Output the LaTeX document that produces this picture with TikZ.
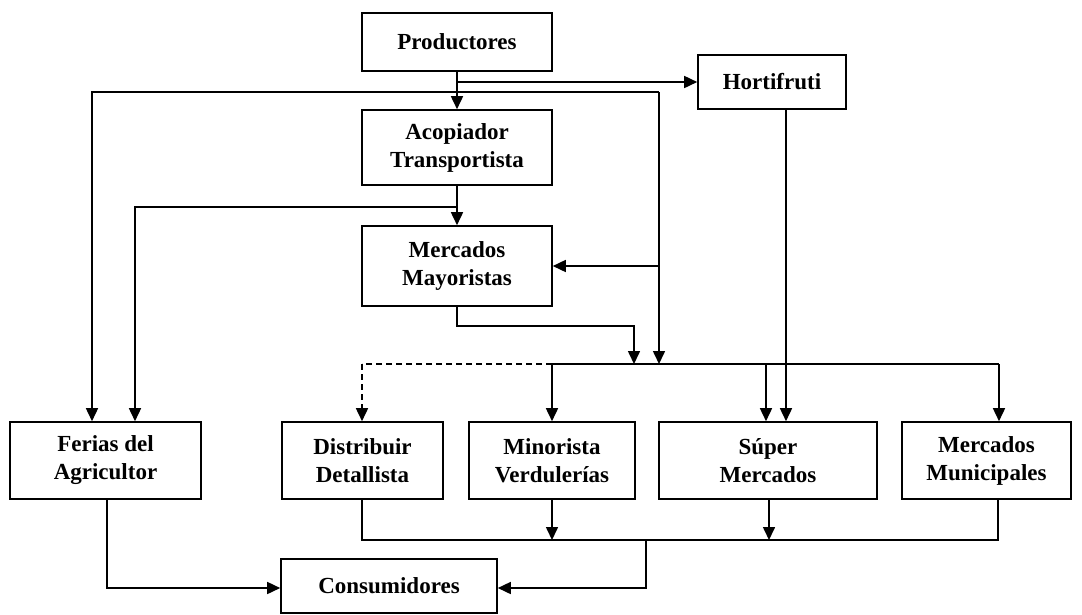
\documentclass[tikz,border=0pt]{standalone}
\usepackage{fontspec}
\setmainfont{Liberation Serif}
\usetikzlibrary{arrows.meta}
\begin{document}
\begin{tikzpicture}[x=1pt,y=-1pt,
  box/.style={draw,line width=1.6pt,rectangle,inner sep=0pt,align=center,
    font=\bfseries\fontsize{23}{28}\selectfont},
  link/.style={line width=1.6pt},
  arr/.style={link,-{Triangle[length=13pt,width=12pt]}}]
\useasboundingbox (0,0) rectangle (1082,614);

% boxes
\node[box,minimum width=190pt,minimum height=58pt] (prod) at (457,42) {Productores};
\node[box,minimum width=148pt,minimum height=54pt] (hort) at (772,82) {Hortifruti};
\node[box,minimum width=190pt,minimum height=75pt] (acop) at (457,147.5) {Acopiador\\Transportista};
\node[box,minimum width=190pt,minimum height=80pt] (mayor) at (457,266) {Mercados\\Mayoristas};
\node[box,minimum width=191pt,minimum height=77pt] (ferias) at (105.5,460.5) {Ferias del\\Agricultor};
\node[box,minimum width=161pt,minimum height=77pt] (dist) at (362.5,460.5) {Distribuir\\Detallista};
\node[box,minimum width=166pt,minimum height=77pt] (mino) at (552,460.5) {Minorista\\Verdulerías};
\node[box,minimum width=218pt,minimum height=77pt] (super) at (768,460.5) {Súper\\Mercados};
\node[box,minimum width=169pt,minimum height=77pt] (muni) at (986.5,460.5) {Mercados\\Municipales};
\node[box,minimum width=216pt,minimum height=54pt] (cons) at (389,586) {Consumidores};

% junction points
\coordinate (pA) at (457,82);
\coordinate (pB) at (457,92);
\coordinate (fL) at (92,92);
\coordinate (rR) at (659,92);
\coordinate (aB) at (457,207);
\coordinate (aL) at (135,207);
\coordinate (mB) at (457,326);
\coordinate (mR) at (634,326);
\coordinate (busL) at (362,364);
\coordinate (busM) at (552,364);
\coordinate (busR) at (999,364);
\coordinate (sA) at (766,364);
\coordinate (hD) at (786,109);
\coordinate (lowL) at (362,540);
\coordinate (lowM) at (646,540);
\coordinate (lowR) at (998,540);
\coordinate (sB) at (769,540);
\coordinate (cR) at (646,588);
\coordinate (fB) at (107,588);

% from Productores
\draw[arr] (prod.south) -- (acop.north);
\draw[arr] (pA) -- (hort.west);
\draw[arr] (pB) -- (fL) -- (fL |- ferias.north);
\draw[link] (pB) -- (rR);
\draw[arr] (rR) -- (rR |- busM);
\draw[arr] (rR |- mayor.east) -- (mayor.east);

% from Acopiador
\draw[arr] (acop.south) -- (mayor.north);
\draw[arr] (aB) -- (aL) -- (aL |- ferias.north);

% from Mayoristas
\draw[arr] (mayor.south) -- (mB) -- (mR) -- (mR |- busM);

% distribution line
\draw[link] (busM) -- (busR);
\draw[link,dash pattern=on 6pt off 4pt] (busM) -- (busL);
\draw[arr,dash pattern=on 6pt off 4pt] (busL) -- (busL |- dist.north);
\draw[arr] (busM) -- (busM |- mino.north);
\draw[arr] (sA) -- (sA |- super.north);
\draw[arr] (busR) -- (busR |- muni.north);
\draw[arr] (hD) -- (hD |- super.north);

% towards Consumidores
\draw[link] (lowL |- dist.south) -- (lowL) -- (lowR) -- (lowR |- muni.south);
\draw[arr] (mino.south) -- (mino.south |- lowL);
\draw[arr] (sB |- super.south) -- (sB);
\draw[arr] (lowM) -- (cR) -- (cR -| cons.east);
\draw[arr] (ferias.south -| fB) -- (fB) -- (fB -| cons.west);
\end{tikzpicture}
\end{document}
